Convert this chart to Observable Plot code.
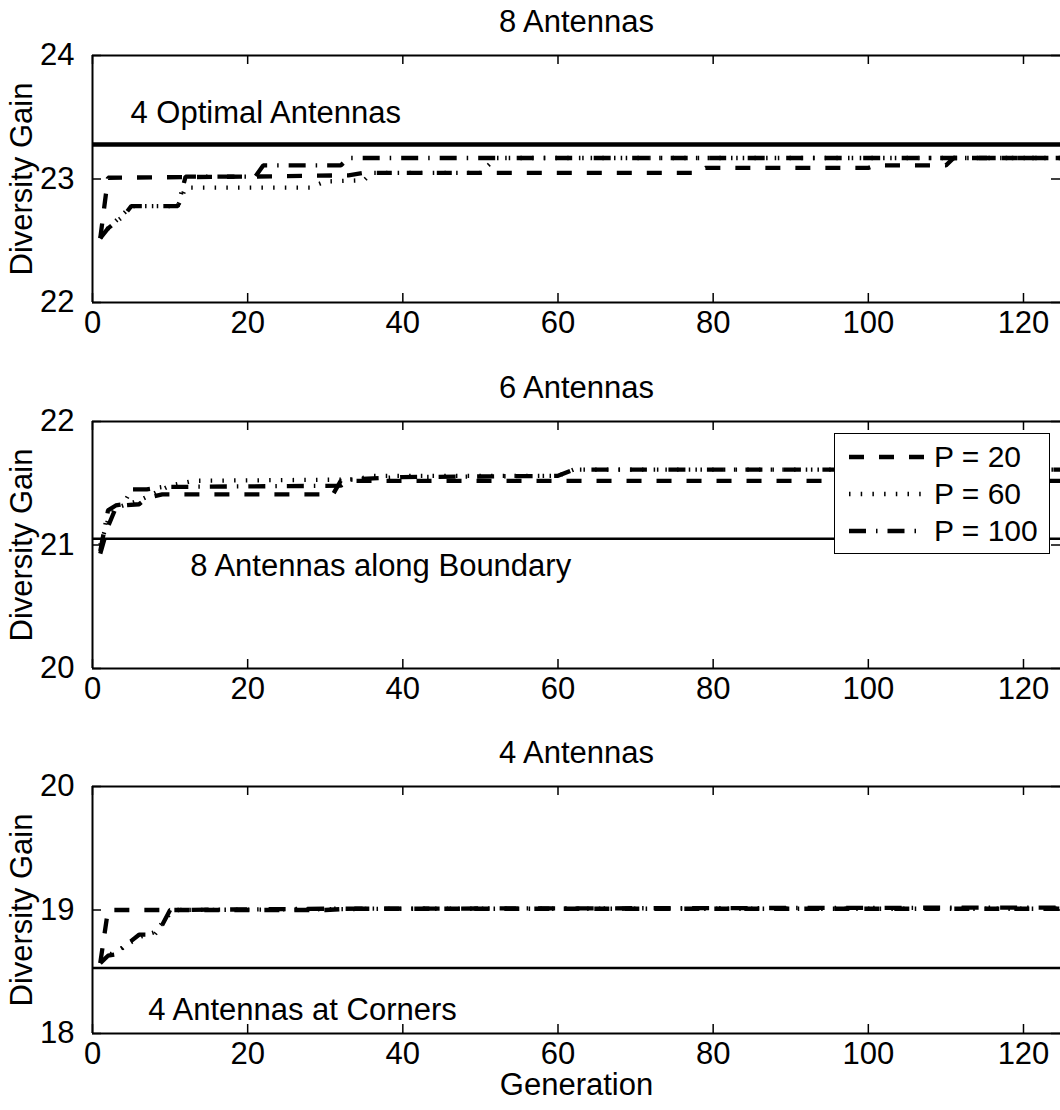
<!DOCTYPE html>
<html>
<head>
<meta charset="utf-8">
<script src="https://cdn.jsdelivr.net/npm/d3@7"></script>
<script src="https://cdn.jsdelivr.net/npm/@observablehq/plot@0.6"></script>
<style>
  html, body { margin: 0; padding: 0; background: white; overflow: hidden; }
  #wrap { position: relative; width: 1060px; height: 1110px; font-family: "Liberation Sans", Arial, sans-serif; }
  #wrap svg { display: block; }
  .legend { position: absolute; background: white; border: 1.5px solid black; box-sizing: border-box; }
  .legend .lab { position: absolute; font-size: 30px; line-height: 36px; white-space: nowrap; }
</style>
</head>
<body>
<div id="wrap"></div>
<script>
// ---- data (generation, diversity gain) ----
const xTicks = [0, 20, 40, 60, 80, 100, 120];
const seriesNames = ["P = 20", "P = 60", "P = 100"];

// Panel 1: 8 Antennas
const titles = ["8 Antennas", "6 Antennas", "4 Antennas"];
const yTicks8 = [22, 23, 24];
const ref8 = 23.28; // 4 Optimal Antennas
const p20_8 = [[1,22.52],[2,23.01],[21,23.02],[33,23.03],[35,23.05],[78,23.05],[79,23.09],[100,23.09],[101,23.11],[110,23.11],[111,23.17],[125,23.17]];
const p60_8 = [[1,22.52],[2,22.6],[3,22.66],[4,22.72],[5,22.78],[11,22.78],[12,22.93],[28,22.93],[30,22.98],[35,22.99],[36,23.05],[50,23.05],[52,23.17],[125,23.17]];
const p100_8 = [[1,22.52],[2,22.6],[3,22.65],[4,22.7],[5,22.78],[11,22.78],[12,23.02],[21,23.02],[22,23.11],[32,23.11],[33,23.17],[125,23.17]];

// Panel 2: 6 Antennas
const yTicks6 = [20, 21, 22];
const ref6 = 21.05; // 8 Antennas along Boundary
const p20_6 = [[1,20.93],[2,21.15],[3,21.3],[4,21.32],[6,21.33],[7,21.38],[9,21.41],[31,21.41],[32,21.52],[125,21.52]];
const p60_6 = [[1,21.0],[2,21.2],[3,21.3],[4,21.32],[6,21.36],[8,21.42],[10,21.48],[13,21.52],[34,21.53],[36,21.56],[60,21.56],[62,21.61],[125,21.61]];
const p100_6 = [[1,20.95],[2,21.28],[3,21.32],[4,21.33],[5,21.45],[7,21.45],[9,21.47],[32,21.48],[33,21.53],[40,21.55],[60,21.56],[62,21.61],[125,21.61]];

// Panel 3: 4 Antennas
const yTicks4 = [18, 19, 20];
const ref4 = 18.53; // 4 Antennas at Corners
const p20_4 = [[1,18.57],[2,19.0],[30,19.0],[33,19.01],[125,19.01]];
const p60_4 = [[1,18.6],[2,18.63],[4,18.7],[6,18.78],[8,18.82],[10,18.97],[11,19.0],[40,19.01],[125,19.01]];
const p100_4 = [[1,18.57],[2,18.63],[3,18.64],[4,18.7],[5,18.75],[6,18.8],[8,18.8],[9,18.88],[10,19.0],[30,19.01],[125,19.02]];

const notes = ["4 Optimal Antennas", "8 Antennas along Boundary", "4 Antennas at Corners"];
const noteAt = [[4.9, 23.53], [12.6, 20.83], [7.2, 18.19]];

// ---- styles ----
const dashes = ["15 15", "1.5 10.2", "17 10 1.5 10"];
const W = 1060, ML = 92, MT = 55, PH = 247;
const XMAX = 124.77;
const FONT = "\"Liberation Sans\", Arial, sans-serif";
const FS = 31;

function panel({title, yTicks, ref, refW, series, note, at, height, xLabel}) {
  const PW = W - ML;
  const ydom = [yTicks[0], yTicks[yTicks.length - 1]];
  const marks = [
    Plot.ruleY([ref], {stroke: "black", strokeWidth: refW}),
    ...series.map((s, i) => Plot.line(s, {
      x: d => d[0], y: d => d[1], stroke: "black", strokeWidth: 4.3,
      strokeDasharray: dashes[i], strokeLinecap: "butt", strokeLinejoin: "miter", clip: true
    })),
    // frame (right edge is outside the window)
    Plot.ruleY([ydom[0], ydom[1]], {stroke: "black", strokeWidth: 2}),
    Plot.ruleX([0], {stroke: "black", strokeWidth: 2}),
    // inward ticks
    Plot.ruleX(xTicks, {stroke: "black", strokeWidth: 1.5, insetTop: PH - 9}),
    Plot.ruleX(xTicks, {stroke: "black", strokeWidth: 1.5, insetBottom: PH - 9}),
    Plot.ruleY(yTicks, {stroke: "black", strokeWidth: 1.5, insetRight: PW - 9}),
    Plot.ruleY(yTicks, {stroke: "black", strokeWidth: 1.5, insetLeft: PW - 9}),
    Plot.axisX({ticks: xTicks, tickSize: 0, tickPadding: 8, label: null, tickFormat: d => String(d), fontSize: FS}),
    Plot.axisY({ticks: yTicks, tickSize: 0, tickPadding: 18, label: null, tickFormat: d => String(d), fontSize: FS}),
    Plot.text([note], {x: at[0], y: at[1], text: d => d, textAnchor: "start", lineAnchor: "middle", fill: "black", fontSize: FS}),
    Plot.text([title], {frameAnchor: "top", dy: -33, text: d => d, textAnchor: "middle", lineAnchor: "middle", fill: "black", fontSize: FS}),
    Plot.text(["Diversity Gain"], {frameAnchor: "left", dx: -70, rotate: -90, text: d => d, textAnchor: "middle", lineAnchor: "middle", fill: "black", fontSize: FS})
  ];
  if (xLabel) marks.push(Plot.text([xLabel], {frameAnchor: "bottom", dy: 52, text: d => d, textAnchor: "middle", lineAnchor: "middle", fill: "black", fontSize: FS}));
  return Plot.plot({
    width: W, height,
    marginLeft: ML, marginRight: 0, marginTop: MT, marginBottom: height - MT - PH,
    x: {domain: [0, XMAX]},
    y: {domain: ydom},
    style: {fontFamily: FONT, fontSize: FS + "px", color: "black", background: "white", overflow: "visible"},
    marks
  });
}

const wrap = document.getElementById("wrap");
wrap.appendChild(panel({title: titles[0], yTicks: yTicks8, ref: ref8, refW: 4.5, series: [p20_8, p60_8, p100_8], note: notes[0], at: noteAt[0], height: 366}));
wrap.appendChild(panel({title: titles[1], yTicks: yTicks6, ref: ref6, refW: 2.5, series: [p20_6, p60_6, p100_6], note: notes[1], at: noteAt[1], height: 365}));
wrap.appendChild(panel({title: titles[2], yTicks: yTicks4, ref: ref4, refW: 2.5, series: [p20_4, p60_4, p100_4], note: notes[2], at: noteAt[2], height: 379, xLabel: "Generation"}));

// legend (panel 2)
const leg = document.createElement("div");
leg.className = "legend";
Object.assign(leg.style, {left: "834px", top: "433px", width: "216px", height: "121px"});
const rowY = [23, 60, 97];
seriesNames.forEach((name, i) => {
  const svgNS = "http://www.w3.org/2000/svg";
  const s = document.createElementNS(svgNS, "svg");
  s.setAttribute("width", 80); s.setAttribute("height", 10);
  s.style.position = "absolute"; s.style.left = "14px"; s.style.top = (rowY[i] - 5) + "px";
  const l = document.createElementNS(svgNS, "line");
  l.setAttribute("x1", 0); l.setAttribute("x2", 77); l.setAttribute("y1", 5); l.setAttribute("y2", 5);
  l.setAttribute("stroke", "black"); l.setAttribute("stroke-width", 4.3);
  l.setAttribute("stroke-dasharray", dashes[i]);
  s.appendChild(l);
  leg.appendChild(s);
  const t = document.createElement("div");
  t.className = "lab"; t.textContent = name;
  t.style.left = "99px"; t.style.top = (rowY[i] - 18) + "px";
  leg.appendChild(t);
});
wrap.appendChild(leg);
</script>
</body>
</html>
